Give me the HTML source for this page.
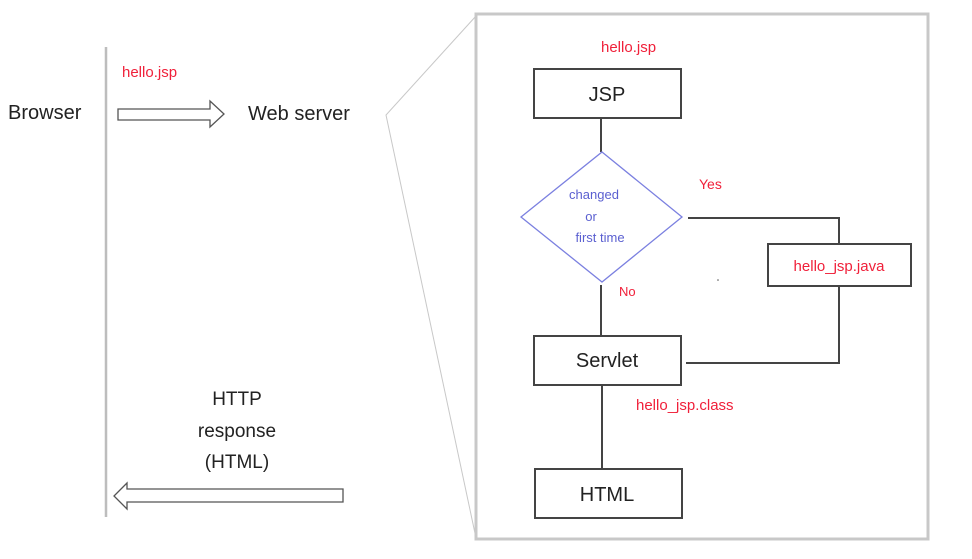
<!DOCTYPE html>
<html><head><meta charset="utf-8"><style>
html,body{margin:0;padding:0;background:#fff;}
svg{display:block;}
text{font-family:"Liberation Sans",sans-serif;}
</style></head><body>
<svg width="972" height="559" viewBox="0 0 972 559" xmlns="http://www.w3.org/2000/svg">
<rect x="476" y="14" width="452" height="525" fill="none" stroke="#c8c8c8" stroke-width="3"/>
<polyline points="476,16 386,115 476,538" fill="none" stroke="#c8c8c8" stroke-width="1"/>
<line x1="106" y1="47" x2="106" y2="517" stroke="#bdbdbd" stroke-width="2.5"/>
<polygon points="118,109 210,109 210,101 224,114 210,127 210,120 118,120" fill="#fff" stroke="#555" stroke-width="1.3"/>
<polygon points="343,489 127,489 127,483 114,496 127,509 127,502 343,502" fill="#fff" stroke="#555" stroke-width="1.3"/>
<text x="8" y="119" font-size="20" fill="#222">Browser</text>
<text x="122" y="77" font-size="15" fill="#f0203a">hello.jsp</text>
<text x="248" y="120" font-size="20" fill="#222">Web server</text>
<text x="237" y="405" font-size="19" fill="#222" text-anchor="middle">HTTP</text>
<text x="237" y="437" font-size="19" fill="#222" text-anchor="middle">response</text>
<text x="237" y="468" font-size="19" fill="#222" text-anchor="middle">(HTML)</text>
<g stroke="#444" stroke-width="2" fill="none">
<line x1="601" y1="118" x2="601" y2="152"/>
<line x1="601" y1="285" x2="601" y2="336"/>
<line x1="602" y1="385" x2="602" y2="469"/>
<polyline points="688,218 839,218 839,244"/>
<polyline points="839,286 839,363 686,363"/>
<rect x="534" y="69" width="147" height="49" fill="#fff"/>
<rect x="534" y="336" width="147" height="49" fill="#fff"/>
<rect x="535" y="469" width="147" height="49" fill="#fff"/>
<rect x="768" y="244" width="143" height="42" fill="#fff"/>
</g>
<polygon points="602,152 682,217 602,282 521,217" fill="#fff" stroke="#7b80e0" stroke-width="1.3"/>
<text x="601" y="52" font-size="15" fill="#f0203a">hello.jsp</text>
<text x="607" y="101" font-size="20" fill="#222" text-anchor="middle">JSP</text>
<text x="594" y="199" font-size="13" fill="#5a5fd0" text-anchor="middle">changed</text>
<text x="591" y="221" font-size="13" fill="#5a5fd0" text-anchor="middle">or</text>
<text x="600" y="242" font-size="13" fill="#5a5fd0" text-anchor="middle">first time</text>
<text x="699" y="189" font-size="14" fill="#f0203a">Yes</text>
<text x="619" y="296" font-size="13" fill="#f0203a">No</text>
<text x="839" y="271" font-size="15" fill="#f0203a" text-anchor="middle">hello_jsp.java</text>
<text x="607" y="367" font-size="20" fill="#222" text-anchor="middle">Servlet</text>
<text x="636" y="410" font-size="15" fill="#f0203a">hello_jsp.class</text>
<text x="607" y="501" font-size="20" fill="#222" text-anchor="middle">HTML</text>
<circle cx="718" cy="280" r="0.8" fill="#555"/>
</svg>
</body></html>
